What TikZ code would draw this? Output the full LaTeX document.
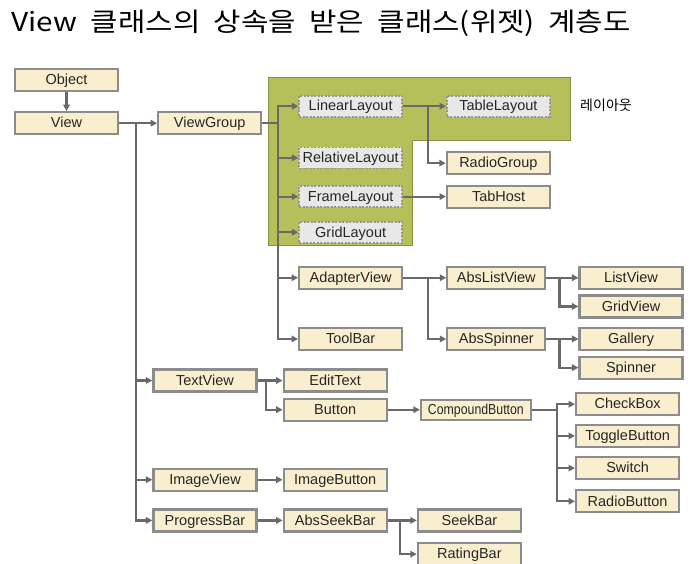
\documentclass[tikz,border=0pt]{standalone}
\usepackage{fontspec}
\setmainfont{Liberation Sans}
\newfontfamily\kofont{Noto Sans CJK KR}
\usepackage{graphicx}
\usepackage{tikz}
\usetikzlibrary{positioning, arrows.meta}
\definecolor{boxfill}{RGB}{249,239,206}
\definecolor{boxline}{RGB}{140,140,140}
\definecolor{layfill}{RGB}{232,232,232}
\definecolor{layline}{RGB}{150,150,150}
\definecolor{zone}{RGB}{181,192,90}
\definecolor{link}{RGB}{105,105,105}

\begin{document}
\begin{tikzpicture}[x=1pt, y=1pt,
  cls/.style={draw=boxline, line width=2.2pt, fill=boxfill, minimum width=103pt,
    minimum height=22pt, inner sep=0pt, text height=10.4pt, text depth=1pt,
    font=\fontsize{14.5}{16}\selectfont, text=black!85},
  lay/.style={cls, draw=layline, fill=layfill, dash pattern=on 2pt off 1.5pt,
    line width=1.7pt, minimum height=21pt},
  arr/.style={draw=link, line width=2.2pt, -{Triangle[length=6.5pt,width=6.5pt]}}]
  \useasboundingbox (0,0) rectangle (697,-563);

  \node[anchor=west, font=\kofont\fontsize{26}{30}\selectfont] (title) at (8,-23) {\scalebox{1.146}[1]{\spaceskip=0.45em View 클래스의 상속을 받은 클래스(위젯) 계층도}};

  % layout zone
  \filldraw[fill=zone, draw=zone!75!black, line width=0.8pt] (268,-77) -- (570,-77) -- (570,-140) -- (412,-140) -- (412,-245) -- (268,-245) -- cycle;
  \node[font=\kofont\fontsize{14}{16}\selectfont] (zonelabel) at (606,-105) {레이아웃};

  \node[cls] (Object) at (66.5,-80) {Object};
  \node[cls, below=19pt of Object] (View) {View};
  \node[cls, right=38pt of View] (ViewGroup) {ViewGroup};

  \node[lay, right=36pt of ViewGroup, yshift=17pt] (LinearLayout) {LinearLayout};
  \node[lay, below=29pt of LinearLayout] (RelativeLayout) {RelativeLayout};
  \node[lay, below=16pt of RelativeLayout] (FrameLayout) {FrameLayout};
  \node[lay, below=13pt of FrameLayout] (GridLayout) {GridLayout};
  \node[lay, right=43pt of LinearLayout] (TableLayout) {TableLayout};
  \node[cls, below=33.5pt of TableLayout] (RadioGroup) {RadioGroup};
  \node[cls, right=43pt of FrameLayout] (TabHost) {TabHost};

  \node[cls, below=22pt of GridLayout] (AdapterView) {AdapterView};
  \node[cls, below=37pt of AdapterView] (ToolBar) {ToolBar};
  \node[cls, minimum width=98pt, right=43pt of AdapterView] (AbsListView) {AbsListView};
  \node[cls, minimum width=98pt, right=43pt of ToolBar] (AbsSpinner) {AbsSpinner};
  \node[cls, right=32pt of AbsListView] (ListView) {ListView};
  \node[cls, below=4.5pt of ListView] (GridView) {GridView};
  \node[cls, right=32pt of AbsSpinner] (Gallery) {Gallery};
  \node[cls, below=4.5pt of Gallery] (Spinner) {Spinner};

  \node[cls] (TextView) at (205,-380.5) {TextView};
  \node[cls, right=25pt of TextView] (EditText) {EditText};
  \node[cls, below=5pt of EditText] (Button) {Button};
  \node[cls, minimum width=110pt, minimum height=20pt, right=32pt of Button] (CompoundButton) {\scalebox{0.85}[1]{CompoundButton}};
  \node[cls, right=43pt of CompoundButton, yshift=5.5pt] (CheckBox) {CheckBox};
  \node[cls, below=7.5pt of CheckBox] (ToggleButton) {ToggleButton};
  \node[cls, below=8pt of ToggleButton] (Switch) {Switch};
  \node[cls, below=9pt of Switch] (RadioButton) {RadioButton};

  \node[cls, below=75pt of TextView] (ImageView) {ImageView};
  \node[cls, right=25pt of ImageView] (ImageButton) {ImageButton};
  \node[cls, below=16.5pt of ImageView] (ProgressBar) {ProgressBar};
  \node[cls, right=25pt of ProgressBar] (AbsSeekBar) {AbsSeekBar};
  \node[cls, right=29pt of AbsSeekBar] (SeekBar) {SeekBar};
  \node[cls, below=9.5pt of SeekBar] (RatingBar) {RatingBar};

  % connectors
  \draw[arr] (Object) -- (View);
  \draw[arr] (View) -- (ViewGroup);
  \draw[arr] (View.east) -- ++(17,0) coordinate (vb) |- (ProgressBar.west);
  \draw[arr] (vb) |- (TextView.west);
  \draw[arr] (vb) |- (ImageView.west);

  \draw[arr] (ViewGroup.east) -- ++(16,0) coordinate (gb) |- (ToolBar.west);
  \draw[arr] (gb) |- (LinearLayout.west);
  \draw[arr] (gb) |- (RelativeLayout.west);
  \draw[arr] (gb) |- (FrameLayout.west);
  \draw[arr] (gb) |- (GridLayout.west);
  \draw[arr] (gb) |- (AdapterView.west);

  \draw[arr] (LinearLayout) -- (TableLayout);
  \draw[arr] (LinearLayout.east) -- ++(25,0) coordinate (lb) |- (RadioGroup.west);
  \draw[arr] (FrameLayout) -- (TabHost);

  \draw[arr] (AdapterView) -- (AbsListView);
  \draw[arr] (AdapterView.east) -- ++(25,0) coordinate (ab) |- (AbsSpinner.west);
  \draw[arr] (AbsListView) -- (ListView);
  \draw[arr] (AbsListView.east) -- ++(13,0) coordinate (alb) |- (GridView.west);
  \draw[arr] (AbsSpinner) -- (Gallery);
  \draw[arr] (AbsSpinner.east) -- ++(13,0) coordinate (asb) |- (Spinner.west);

  \draw[arr] (TextView) -- (EditText);
  \draw[arr] (TextView.east) -- ++(8,0) coordinate (tb) |- (Button.west);
  \draw[arr] (Button) -- (CompoundButton);
  \draw[arr] (CompoundButton.east) -- ++(25,0) coordinate (cb) |- (RadioButton.west);
  \draw[arr] (cb) |- (CheckBox.west);
  \draw[arr] (cb) |- (ToggleButton.west);
  \draw[arr] (cb) |- (Switch.west);

  \draw[arr] (ImageView) -- (ImageButton);
  \draw[arr] (ProgressBar) -- (AbsSeekBar);
  \draw[arr] (AbsSeekBar) -- (SeekBar);
  \draw[arr] (AbsSeekBar.east) -- ++(12,0) coordinate (sb) |- (RatingBar.west);
\end{tikzpicture}
\end{document}
